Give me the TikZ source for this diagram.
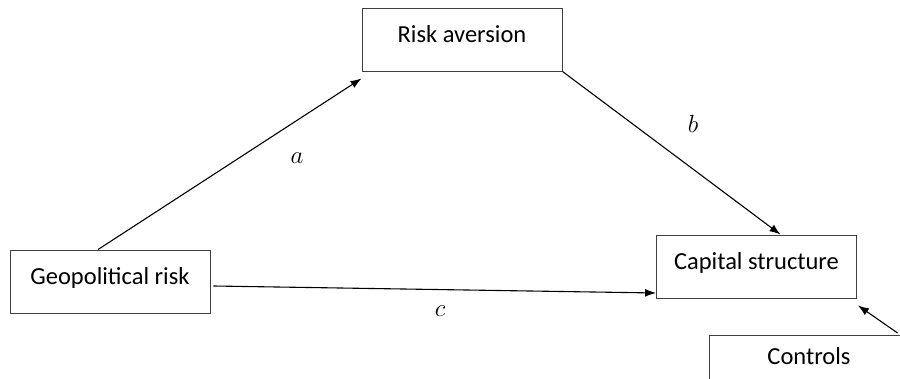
\documentclass[tikz,border=0pt]{standalone}
\usepackage{fontspec}
\setmainfont{Carlito}
\usetikzlibrary{calc,arrows.meta}
\tikzset{
  box/.style={draw=black!75, line width=0.9pt, minimum width=200pt, minimum height=63pt, inner sep=0pt, text height=18pt, text depth=12pt, font=\fontsize{24.5}{28}\selectfont, text=black},
  conn/.style={draw=black, line width=1.1pt, -{Latex[length=11pt,width=8pt]}},
  lbl/.style={font=\fontsize{27}{30}\selectfont}
}
\begin{document}
\begin{tikzpicture}[x=1pt,y=-1pt]
\useasboundingbox (0,0) rectangle (900,379);
\node[box] (ra) at (462,39.5) {Risk aversion};
\node[box] (geo) at (110,281.5) {Geopolitical risk};
\node[box] (cap) at (756.5,266.5) {Capital structure};
\node[box, anchor=north, text height=29pt, text depth=40pt] (ctrl) at (809,335) {Controls};
\coordinate (asrc) at ($(geo.north)+(-12,0)$);
\coordinate (atgt) at ($(ra.south west)+(0,7)$);
\coordinate (btgt) at ($(cap.north)+(24,0)$);
\coordinate (csrc) at ($(geo.east)+(3,4.5)$);
\coordinate (ctgt) at ($(cap.west)+(0,26.5)$);
\coordinate (dsrc) at ($(ctrl.north west)+(189,-2)$);
\coordinate (dtgt) at ($(cap.south east)+(1,7)$);
\draw[conn] (asrc) -- (atgt);
\draw[conn] (ra.south east) -- (btgt);
\draw[conn] (csrc) -- (ctgt);
\draw[conn] (dsrc) -- (dtgt);
\node[lbl] (la) at (297,158) {$a$};
\node[lbl] (lb) at (693,124) {$b$};
\node[lbl] (lc) at (440,311) {$c$};
\end{tikzpicture}
\end{document}
